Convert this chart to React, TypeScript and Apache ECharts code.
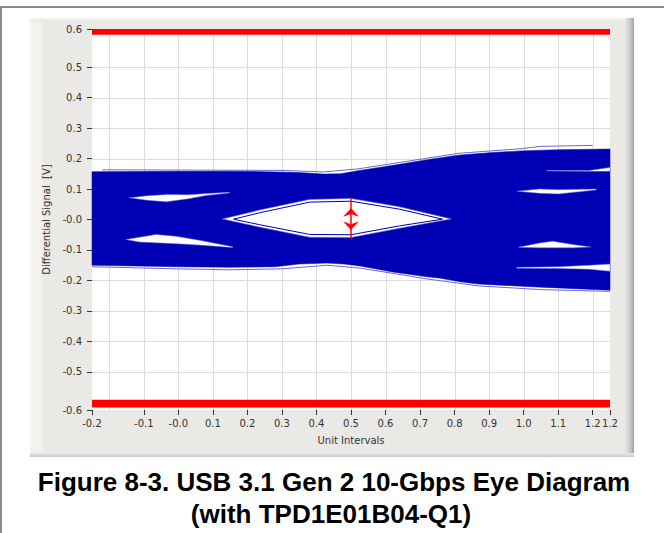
import React, { useEffect, useRef } from 'react';
import * as echarts from 'echarts';

// ---- axis ticks / labels ----
const xTickValues = [-0.25, -0.1, 0, 0.1, 0.2, 0.3, 0.4, 0.5, 0.6, 0.7, 0.8, 0.9, 1.0, 1.1, 1.2, 1.25];
const xTickLabels = ['-0.2', '-0.1', '-0.0', '0.1', '0.2', '0.3', '0.4', '0.5', '0.6', '0.7', '0.8', '0.9', '1.0', '1.1', '1.2', '1.2'];
const yTickValues = [-0.625, -0.5, -0.4, -0.3, -0.2, -0.1, 0, 0.1, 0.2, 0.3, 0.4, 0.5, 0.625];
const yTickLabels = ['-0.6', '-0.5', '-0.4', '-0.3', '-0.2', '-0.1', '-0.0', '0.1', '0.2', '0.3', '0.4', '0.5', '0.6'];
const gridXValues = [-0.2, -0.1, 0, 0.1, 0.2, 0.3, 0.4, 0.5, 0.6, 0.7, 0.8, 0.9, 1.0, 1.1, 1.2];
const gridYValues = [-0.5, -0.4, -0.3, -0.2, -0.1, 0, 0.1, 0.2, 0.3, 0.4, 0.5];
const X_MIN = -0.25;
const X_MAX = 1.25;
const Y_MIN = -0.625;
const Y_MAX = 0.625;

// ---- eye envelope (outer edge of the blue band) ----
const envTopX = [-0.25, 0.0, 0.15, 0.25, 0.35, 0.42, 0.47, 0.52, 0.6, 0.64, 0.73, 0.81, 0.9, 0.99, 1.1, 1.25];
const envTopY = [0.157, 0.158, 0.158, 0.157, 0.154, 0.149, 0.15, 0.16, 0.174, 0.181, 0.198, 0.211, 0.219, 0.225, 0.229, 0.231];
const envBotX = [-0.25, 0.0, 0.15, 0.28, 0.35, 0.43, 0.48, 0.53, 0.62, 0.72, 0.76, 0.82, 0.87, 1.05, 1.25];
const envBotY = [-0.15, -0.155, -0.157, -0.155, -0.146, -0.143, -0.146, -0.153, -0.172, -0.188, -0.193, -0.205, -0.212, -0.222, -0.232];

// ---- stray light traces outside the band ----
const traceTopX = [-0.22, 0.3, 0.42, 0.52, 0.64, 0.81, 0.99, 1.05, 1.2];
const traceTopY = [0.163, 0.161, 0.156, 0.166, 0.187, 0.217, 0.232, 0.24, 0.243];
const traceBotX = [-0.25, 0.0, 0.15, 0.3, 0.43, 0.53, 0.72, 0.87, 1.05, 1.25];
const traceBotY = [-0.155, -0.162, -0.165, -0.162, -0.15, -0.16, -0.195, -0.218, -0.23, -0.236];

// ---- central eye opening ----
const eyeOuterX = [0.128, 0.235, 0.38, 0.5, 0.64, 0.79, 0.64, 0.5, 0.38, 0.235];
const eyeOuterY = [0.002, 0.031, 0.066, 0.069, 0.042, 0.002, -0.029, -0.059, -0.058, -0.025];
const eyeInnerX = [0.16, 0.235, 0.38, 0.5, 0.64, 0.765, 0.64, 0.5, 0.38, 0.235];
const eyeInnerY = [0.001, 0.022, 0.057, 0.06, 0.034, 0.001, -0.021, -0.05, -0.049, -0.017];

// ---- side openings and slits ----
const ulX = [-0.142, -0.09, -0.03, 0.03, 0.08, 0.148, 0.148, 0.08, 0.03, -0.035, -0.09];
const ulY = [0.071, 0.078, 0.082, 0.081, 0.085, 0.089, 0.087, 0.079, 0.068, 0.058, 0.063];
const llX = [-0.152, -0.065, -0.007, 0.061, 0.157, 0.157, 0.061, -0.017, -0.113];
const llY = [-0.066, -0.049, -0.055, -0.068, -0.089, -0.092, -0.084, -0.079, -0.074];
const urX = [0.98, 1.046, 1.1, 1.21, 1.21, 1.1, 1.046];
const urY = [0.093, 0.1, 0.098, 0.1, 0.097, 0.084, 0.086];
const lrX = [0.985, 1.046, 1.084, 1.142, 1.195, 1.142, 1.046];
const lrY = [-0.091, -0.077, -0.071, -0.082, -0.09, -0.093, -0.093];
const slitTopX = [1.067, 1.19, 1.25, 1.25, 1.19, 1.067];
const slitTopY = [0.161, 0.161, 0.171, 0.158, 0.158, 0.159];
const slitBotX = [0.98, 1.1, 1.19, 1.25, 1.25, 1.19, 1.1, 0.98];
const slitBotY = [-0.157, -0.155, -0.15, -0.146, -0.17, -0.163, -0.161, -0.16];

// ---- eye-height marker ----
const markerX = [0.5, 0.5];
const markerY = [0.068, -0.062];
const arrowUpX = [0.5, 0.521, 0.5, 0.479];
const arrowUpY = [0.036, 0.011, 0.019, 0.011];
const arrowDownX = [0.5, 0.521, 0.5, 0.479];
const arrowDownY = [-0.033, -0.008, -0.016, -0.008];

// ---- mask bars ----
const maskX = [-0.25, 1.25];
const maskTopY = [0.606, 0.625];
const maskBotY = [-0.617, -0.591];

const BLUE = '#0000B5';
const LIGHT = '#6A6AD2';
const RED = '#FF0000';
const GRID = '#DCDCDC';

const zip = (xs: number[], ys: number[]) => xs.map((x, i) => [x, ys[i]] as [number, number]);
const rectPts = (xs: number[], ys: number[]) =>
  [[xs[0], ys[0]], [xs[1], ys[0]], [xs[1], ys[1]], [xs[0], ys[1]]] as [number, number][];

function shapeSeries(pts: [number, number][], kind: 'polygon' | 'polyline', style: any, z: number) {
  return {
    type: 'custom',
    coordinateSystem: 'cartesian2d',
    silent: true,
    z,
    data: pts,
    renderItem: (params: any, api: any) => {
      if (params.dataIndex !== 0) return null;
      return {
        type: kind,
        shape: { points: pts.map((p) => api.coord(p)) },
        style,
      };
    },
  };
}

function gridSeries(values: number[], vertical: boolean) {
  return {
    type: 'custom',
    coordinateSystem: 'cartesian2d',
    silent: true,
    z: 1,
    data: values.map((v) => (vertical ? [v, 0] : [0, v])),
    renderItem: (params: any, api: any) => {
      const v = values[params.dataIndex];
      const a = vertical ? api.coord([v, Y_MIN]) : api.coord([X_MIN, v]);
      const b = vertical ? api.coord([v, Y_MAX]) : api.coord([X_MAX, v]);
      const c = Math.round(vertical ? a[0] : a[1]) + 0.5;
      return {
        type: 'line',
        shape: vertical ? { x1: c, y1: a[1], x2: c, y2: b[1] } : { x1: a[0], y1: c, x2: b[0], y2: c },
        style: { stroke: GRID, lineWidth: 1 },
      };
    },
  };
}

const fmt = (vals: number[], labels: string[]) => (v: number) => {
  const i = vals.findIndex((t) => Math.abs(t - v) < 1e-6);
  return i >= 0 ? labels[i] : '';
};

const labelStyle = { fontFamily: 'DejaVu Sans', fontSize: 10, color: '#333' };

export default function App() {
  const ref = useRef<HTMLDivElement>(null);
  useEffect(() => {
    const chart = echarts.init(ref.current!, undefined, { renderer: 'svg' });
    const envelope = [...zip(envTopX, envTopY), ...zip(envBotX, envBotY).reverse()];
    chart.setOption({
      animation: false,
      grid: { left: 92, right: 54, top: 29, bottom: 123, show: true, backgroundColor: '#FFFFFF', borderWidth: 0 },
      xAxis: {
        type: 'value',
        min: X_MIN,
        max: X_MAX,
        axisLine: { show: false, onZero: false },
        axisTick: { show: true, length: 5, lineStyle: { color: '#333' }, customValues: xTickValues },
        axisLabel: { ...labelStyle, customValues: xTickValues, formatter: fmt(xTickValues, xTickLabels), margin: 8 },
        splitLine: { show: false },
        name: 'Unit Intervals',
        nameLocation: 'middle',
        nameGap: 25,
        nameTextStyle: labelStyle,
      },
      yAxis: {
        type: 'value',
        min: Y_MIN,
        max: Y_MAX,
        axisLine: { show: false, onZero: false },
        axisTick: { show: true, length: 5, lineStyle: { color: '#333' }, customValues: yTickValues },
        axisLabel: { ...labelStyle, customValues: yTickValues, formatter: fmt(yTickValues, yTickLabels), margin: 10 },
        splitLine: { show: false },
        name: 'Differential Signal  [V]',
        nameLocation: 'middle',
        nameGap: 37,
        nameRotate: 90,
        nameTextStyle: labelStyle,
      },
      graphic: [
        {
          type: 'text',
          x: 334,
          y: 482,
          style: {
            text: 'Figure 8-3. USB 3.1 Gen 2 10-Gbps Eye Diagram',
            font: 'bold 26px "Liberation Sans", Arial, sans-serif',
            fill: '#000',
            align: 'center',
            verticalAlign: 'middle',
          },
        },
        {
          type: 'text',
          x: 331,
          y: 514,
          style: {
            text: '(with TPD1E01B04-Q1)',
            font: 'bold 26px "Liberation Sans", Arial, sans-serif',
            fill: '#000',
            align: 'center',
            verticalAlign: 'middle',
          },
        },
      ],
      series: [
        gridSeries(gridXValues, true),
        gridSeries(gridYValues, false),
        shapeSeries(envelope, 'polygon', { fill: BLUE, stroke: BLUE, lineWidth: 0.5 }, 2),
        shapeSeries(zip(traceTopX, traceTopY), 'polyline', { stroke: LIGHT, lineWidth: 1, fill: null }, 3),
        shapeSeries(zip(traceBotX, traceBotY), 'polyline', { stroke: LIGHT, lineWidth: 1, fill: null }, 3),
        shapeSeries(zip(eyeOuterX, eyeOuterY), 'polygon', { fill: '#FFFFFF', stroke: LIGHT, lineWidth: 0.6 }, 4),
        shapeSeries(zip(eyeInnerX, eyeInnerY), 'polygon', { fill: null, stroke: BLUE, lineWidth: 1 }, 5),
        shapeSeries(zip(ulX, ulY), 'polygon', { fill: '#FFFFFF', stroke: LIGHT, lineWidth: 0.5 }, 4),
        shapeSeries(zip(llX, llY), 'polygon', { fill: '#FFFFFF', stroke: LIGHT, lineWidth: 0.5 }, 4),
        shapeSeries(zip(urX, urY), 'polygon', { fill: '#FFFFFF', stroke: LIGHT, lineWidth: 0.5 }, 4),
        shapeSeries(zip(lrX, lrY), 'polygon', { fill: '#FFFFFF', stroke: LIGHT, lineWidth: 0.5 }, 4),
        shapeSeries(zip(slitTopX, slitTopY), 'polygon', { fill: '#FFFFFF', stroke: LIGHT, lineWidth: 0.5 }, 4),
        shapeSeries(zip(slitBotX, slitBotY), 'polygon', { fill: '#FFFFFF', stroke: LIGHT, lineWidth: 0.5 }, 4),
        shapeSeries(zip(markerX, markerY), 'polyline', { stroke: RED, lineWidth: 1.5, fill: null }, 6),
        shapeSeries(zip(arrowUpX, arrowUpY), 'polygon', { fill: RED, stroke: RED, lineWidth: 0.5 }, 6),
        shapeSeries(zip(arrowDownX, arrowDownY), 'polygon', { fill: RED, stroke: RED, lineWidth: 0.5 }, 6),
        shapeSeries(rectPts(maskX, maskTopY), 'polygon', { fill: RED }, 6),
        shapeSeries(rectPts(maskX, maskBotY), 'polygon', { fill: RED }, 6),
      ],
    });
    return () => chart.dispose();
  }, []);

  return (
    <div style={{ position: 'absolute', left: 0, top: 0, width: 664, height: 533, background: '#FFFFFF', overflow: 'hidden' }}>
      <div style={{ position: 'absolute', left: 0, top: 6, width: 664, height: 2, background: '#8A8A8A' }} />
      <div style={{ position: 'absolute', left: 0, top: 6, width: 2, height: 527, background: '#8A8A8A' }} />
      <div
        style={{
          position: 'absolute',
          left: 30,
          top: 18,
          width: 604,
          height: 439,
          background:
            'linear-gradient(to right, #F5F4F0 0px, #F2F1ED 12px, #EAE9E5 14px, #EAE9E5 594px, #D8D7D3 598px, #B9B9B6 602px, #A0A09E 604px)',
        }}
      />
      <div
        style={{
          position: 'absolute',
          left: 30,
          top: 18,
          width: 596,
          height: 4,
          background: 'linear-gradient(to bottom, #F4F3EF, #EAE9E5)',
        }}
      />
      <div
        style={{
          position: 'absolute',
          left: 30,
          top: 453,
          width: 604,
          height: 4,
          background: 'linear-gradient(to bottom, #EAE9E5, #C8C8C5)',
        }}
      />
      <div ref={ref} style={{ position: 'absolute', left: 0, top: 0, width: 664, height: 533 }} />
    </div>
  );
}
